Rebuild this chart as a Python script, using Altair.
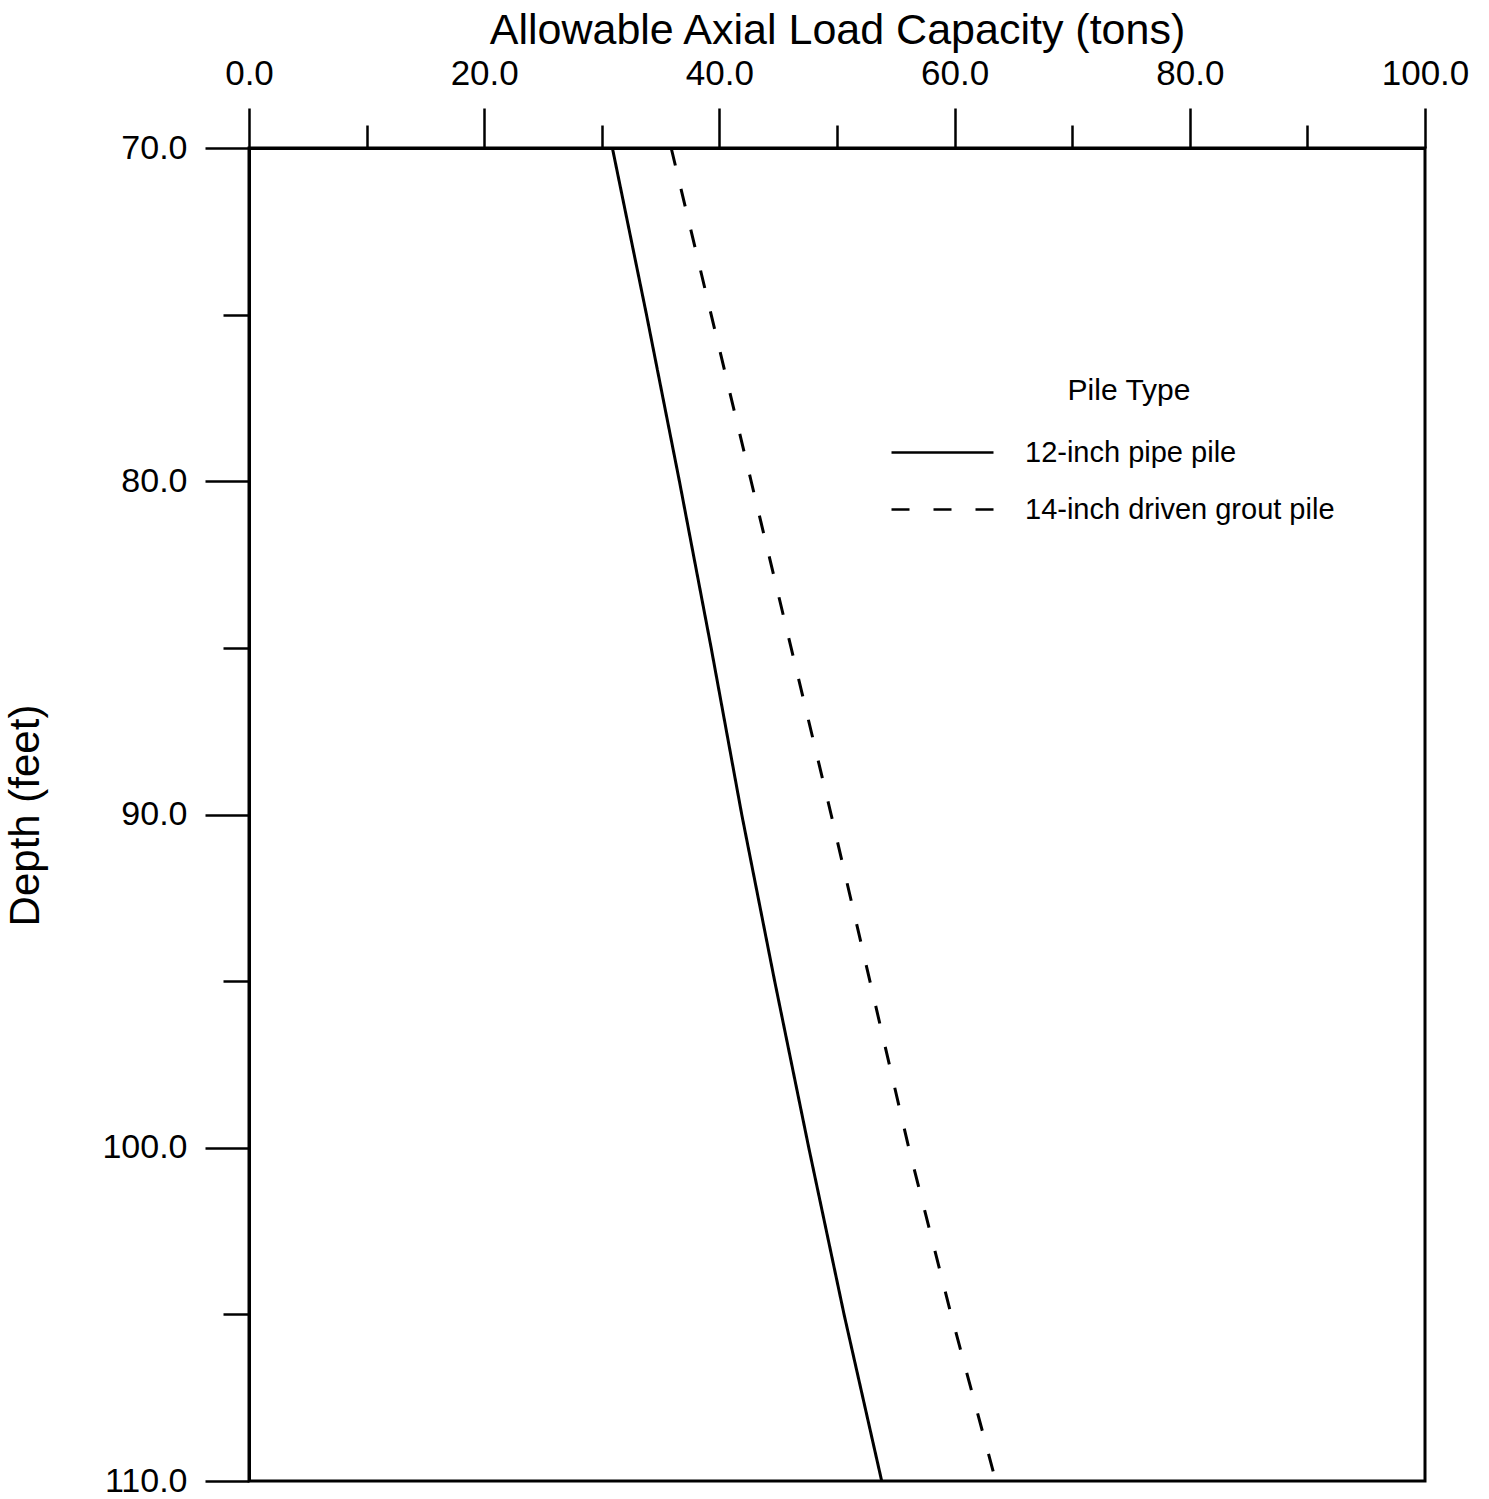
import altair as alt
import pandas as pd

# Depth (feet) at which capacities were read
depth = [70, 75, 80, 85, 90, 95, 100, 105, 110]

# Allowable axial load capacity (tons) per pile type
pipe_12in = [30.9, 33.8, 36.6, 39.3, 41.9, 44.7, 47.6, 50.6, 53.8]
grout_14in = [35.9, 39.3, 42.7, 46.1, 49.5, 52.8, 56.1, 59.7, 63.5]

pile_types = ["12-inch pipe pile", "14-inch driven grout pile"]

x_ticks = [0, 10, 20, 30, 40, 50, 60, 70, 80, 90, 100]
y_ticks = [70, 75, 80, 85, 90, 95, 100, 105, 110]

rows = []
for d, a, b in zip(depth, pipe_12in, grout_14in):
    rows.append({"depth": d, "capacity": a, "pile": pile_types[0]})
    rows.append({"depth": d, "capacity": b, "pile": pile_types[1]})
df = pd.DataFrame(rows)

FONT = "Liberation Sans"

chart = (
    alt.Chart(df)
    .mark_line(color="black", strokeWidth=3)
    .encode(
        x=alt.X(
            "capacity:Q",
            scale=alt.Scale(domain=[0, 100], nice=False, zero=False),
            axis=alt.Axis(
                orient="top",
                title="Allowable Axial Load Capacity (tons)",
                values=x_ticks,
                labelExpr="datum.value % 20 === 0 ? format(datum.value, '.1f') : ''",
                tickSize=alt.condition("datum.value % 20 === 0", alt.value(40), alt.value(23)),
                labelFlush=False,
                labelPadding=17,
                labelFontSize=35,
                titleFontSize=43,
                titleY=-118,
                titleBaseline="middle",
            ),
        ),
        y=alt.Y(
            "depth:Q",
            scale=alt.Scale(domain=[70, 110], reverse=True, nice=False, zero=False),
            axis=alt.Axis(
                orient="left",
                title="Depth (feet)",
                values=y_ticks,
                labelExpr="datum.value % 10 === 0 ? format(datum.value, '.1f') : ''",
                tickSize=alt.condition("datum.value % 10 === 0", alt.value(44), alt.value(26)),
                labelFlush=False,
                labelPadding=18,
                labelFontSize=34,
                titleFontSize=42,
                titleAngle=-90,
                titleX=-224,
                titleY=667,
                titleAlign="center",
                titleBaseline="middle",
            ),
        ),
        strokeDash=alt.StrokeDash(
            "pile:N",
            scale=alt.Scale(domain=pile_types, range=[[1, 0], [18, 24]]),
            legend=alt.Legend(
                title="Pile Type",
                orient="none",
                legendX=675,
                legendY=228,
                padding=0,
                symbolType="M-3,0H3",
                symbolSize=1156,
                symbolStrokeWidth=2.5,
                symbolStrokeColor="black",
                labelOffset=64,
                labelFontSize=29,
                labelLimit=0,
                titleFontSize=30,
                titleFontWeight="normal",
                titleAnchor="middle",
                titlePadding=28,
                rowPadding=23,
            ),
        ),
        detail="pile:N",
    )
    .properties(
        width=1176,
        height=1333,
        autosize=alt.AutoSizeParams(type="none"),
        padding={"left": 249, "top": 148, "right": 64, "bottom": 18},
    )
    .configure(font=FONT, background="white")
    .configure_view(stroke="black", strokeWidth=3)
    .configure_axis(
        grid=False,
        domainColor="black",
        domainWidth=3,
        tickColor="black",
        tickWidth=2.5,
        labelColor="black",
        titleColor="black",
        titleFontWeight="normal",
        labelFont=FONT,
        titleFont=FONT,
    )
    .configure_legend(labelFont=FONT, titleFont=FONT, labelColor="black", titleColor="black")
)

chart.save("out.html", embed_options={"renderer": "svg", "actions": False})
